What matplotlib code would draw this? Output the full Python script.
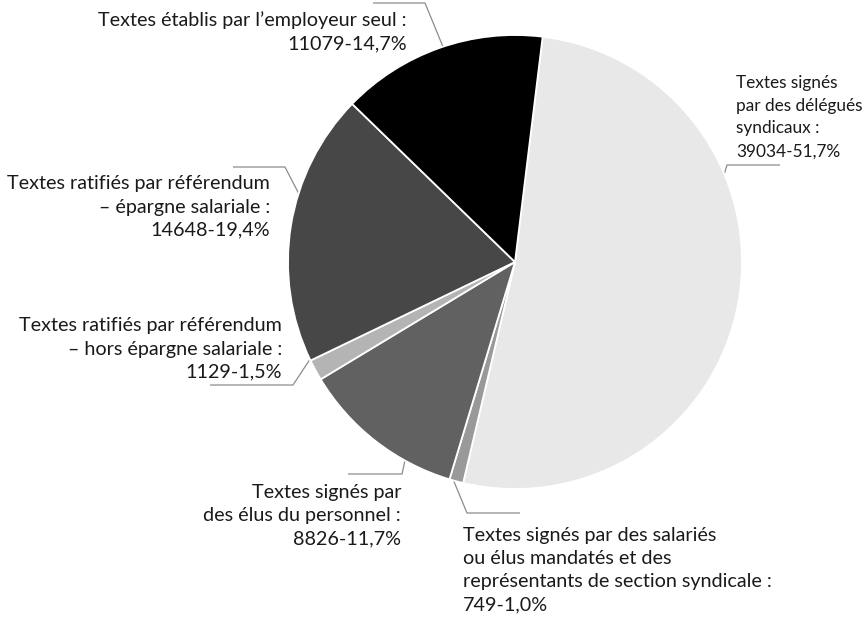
import numpy as np
import matplotlib
matplotlib.use("Agg")
import matplotlib.pyplot as plt

plt.rcParams['font.family'] = ['Lato', 'DejaVu Sans']

# Data (clockwise from top)
labels = [
    "Textes signés\npar des délégués\nsyndicaux :\n39034-51,7%",
    "Textes signés par des salariés\nou élus mandatés et des\nreprésentants de section syndicale :\n749-1,0%",
    "Textes signés par\ndes élus du personnel :\n8826-11,7%",
    "Textes ratifiés par référendum\n– hors épargne salariale :\n1129-1,5%",
    "Textes ratifiés par référendum\n– épargne salariale :\n14648-19,4%",
    "Textes établis par l’employeur seul :\n11079-14,7%",
]
values = [39034, 749, 8826, 1129, 14648, 11079]
colors = ["#e8e8e8", "#999999", "#616161", "#b4b4b4", "#474747", "#000000"]

W, H = 864, 618
fig = plt.figure(figsize=(W / 100, H / 100), dpi=100)
ax = fig.add_axes([0, 0, 1, 1])

cx, cy, R = 515, H - 262, 227
start = 83.0
ax.pie(values, colors=colors, startangle=start, counterclock=False,
       center=(cx, cy), radius=R,
       wedgeprops=dict(edgecolor='white', linewidth=1.3))
ax.set_xlim(0, W)
ax.set_ylim(0, H)
ax.set_aspect('equal')
ax.axis('off')

# label layout: (anchor angle deg, elbow x, elbow y, end x, text x, text center y, ha, fontsize, linespacing)
layout = [
    (22.8, 727, 165, 780, 736, 117, 'left', 12.4, 1.52),
    (-105.7, 467, 513, 520, 463, 570, 'left', 14.2, 1.44),
    (-119.0, 402, 474, 348, 401, 516, 'right', 14.2, 1.44),
    (-154.6, 293, 385, 210, 282, 349, 'right', 14.2, 1.44),
    (162.4, 285, 167, 233, 270, 207, 'right', 14.2, 1.44),
    (108.5, 425, 3, 373, 407, 32, 'right', 14.2, 1.44),
]

for lab, (ang, ex, ey, endx, tx, ty, ha, fs, ls) in zip(labels, layout):
    a = np.deg2rad(ang)
    px, py = cx + R * np.cos(a), cy + R * np.sin(a)
    ax.plot([px, ex, endx], [py, H - ey, H - ey], color='#8c8c8c', lw=0.9,
            solid_capstyle='butt', zorder=0.5)
    ax.text(tx, H - ty, lab, ha=ha, va='center', fontsize=fs, color='#1a1a1a',
            linespacing=ls, multialignment=ha)

fig.savefig("out.png", dpi=100)
